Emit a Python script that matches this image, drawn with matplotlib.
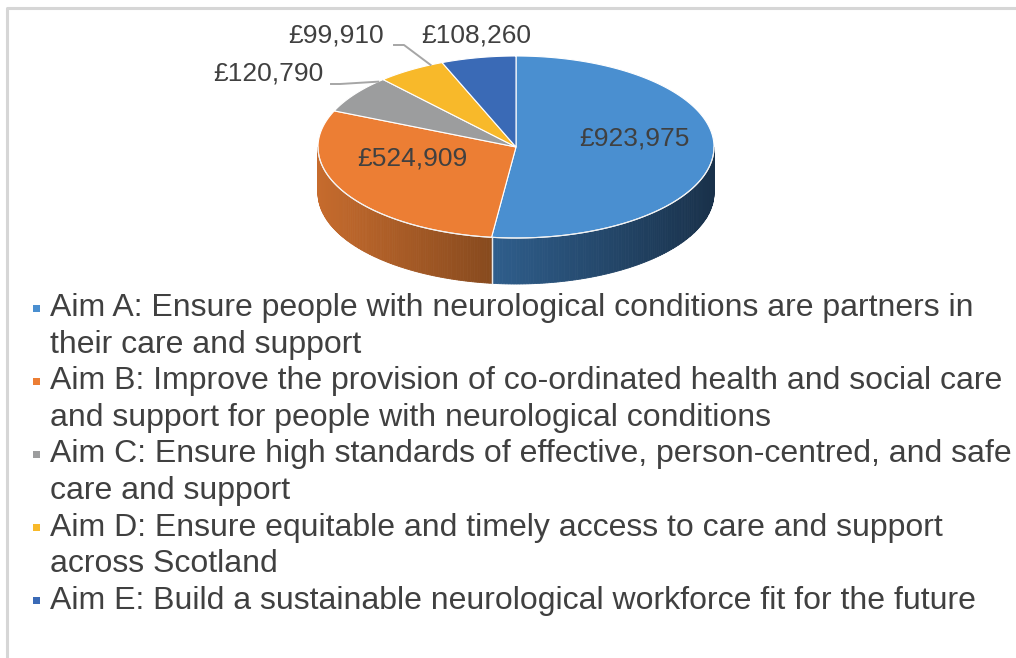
import numpy as np
import matplotlib

matplotlib.use("Agg")
import matplotlib.pyplot as plt
from matplotlib.colors import to_rgb
from matplotlib.patches import Polygon, Rectangle

# data
aims = ["Aim A", "Aim B", "Aim C", "Aim D", "Aim E"]
amounts = [923975, 524909, 120790, 99910, 108260]
value_labels = ["£923,975", "£524,909", "£120,790", "£99,910", "£108,260"]
legend_labels = [
    "Aim A: Ensure people with neurological conditions are partners in\ntheir care and support",
    "Aim B: Improve the provision of co-ordinated health and social care\nand support for people with neurological conditions",
    "Aim C: Ensure high standards of effective, person-centred, and safe\ncare and support",
    "Aim D: Ensure equitable and timely access to care and support\nacross Scotland",
    "Aim E: Build a sustainable neurological workforce fit for the future",
]

top_colors = ["#4a8fd0", "#ec7e34", "#9c9d9e", "#f8b92a", "#3a6ab6"]
side_light = ["#2f5e8c", "#c66b2d", "#7a7a7a", "#c08d1c", "#2b4f8a"]
side_dark = ["#19314a", "#874a1e", "#555555", "#8a6514", "#1d365e"]
text_color = "#404040"
font = ["Liberation Sans", "DejaVu Sans"]

# layout in pixels (axes spans the whole figure)
W, H = 1016, 658
cx, cy = 516, 147
ra, rb = 198, 91
depth = 46


def arc(t0, t1, n=200, dy=0.0):
    t = np.radians(np.linspace(t0, t1, n))
    return cx + ra * np.sin(t), cy - rb * np.cos(t) + dy


fig = plt.figure(figsize=(W / 100, H / 100), dpi=100)
ax = fig.add_axes([0, 0, 1, 1])
ax.set_xlim(0, W)
ax.set_ylim(H, 0)
ax.axis("off")

# frame
ax.plot([7, 7, W + 5], [H + 5, 8, 8], color="#d6d6d6", lw=2.2, solid_capstyle="butt")

fracs = np.array(amounts, dtype=float) / sum(amounts)
edges = np.concatenate([[0.0], np.cumsum(fracs) * 360.0])

# side walls: only the front half (90..270 deg clockwise from top) is visible
for i in range(len(amounts)):
    t0, t1 = max(edges[i], 90.0), min(edges[i + 1], 270.0)
    if t1 <= t0:
        continue
    steps = np.linspace(t0, t1, 120)
    xs_all = cx + ra * np.sin(np.radians(steps))
    xmin, xmax = xs_all.min(), xs_all.max()
    c_l, c_d = np.array(to_rgb(side_light[i])), np.array(to_rgb(side_dark[i]))
    for a0, a1 in zip(steps[:-1], steps[1:]):
        x_top, y_top = arc(a0, a1, 4)
        x_bot, y_bot = arc(a1, a0, 4, dy=depth)
        xm = 0.5 * (x_top[0] + x_top[-1])
        f = (xm - xmin) / max(xmax - xmin, 1e-6)
        col = c_l * (1 - f) + c_d * f
        ax.add_patch(Polygon(np.column_stack([np.r_[x_top, x_bot], np.r_[y_top, y_bot]]),
                             closed=True, facecolor=col, edgecolor=col, lw=0.6))
    # vertical seam at slice boundary on the front
    for t in (edges[i], edges[i + 1]):
        if 90.0 < t < 270.0:
            xs = cx + ra * np.sin(np.radians(t))
            ys = cy - rb * np.cos(np.radians(t))
            ax.plot([xs, xs], [ys, ys + depth], color="#e8e8e8", lw=0.9)

# top faces
for i in range(len(amounts)):
    xa, ya = arc(edges[i], edges[i + 1])
    ax.add_patch(Polygon(np.column_stack([np.r_[cx, xa], np.r_[cy, ya]]), closed=True,
                         facecolor=top_colors[i], edgecolor="white", lw=0.8))

# front rim highlight
xr, yr = arc(90, 270)
ax.plot(xr, yr, color="#f2f2f2", lw=0.8)

# value labels
inside = {0: (0.60, -12), 1: (0.60, -16)}
for i, (r, dy) in inside.items():
    tm = np.radians(0.5 * (edges[i] + edges[i + 1]))
    ax.text(cx + r * ra * np.sin(tm), cy - r * rb * np.cos(tm) + dy, value_labels[i],
            ha="center", va="center", family=font, fontsize=19, color=text_color)

# outside labels with leader lines: (text centre, line start, elbow, fraction along slice)
outside = {
    2: ((268, 73), (331, 84), (340, 84), 0.92),
    3: ((336, 35), (394, 45), (404, 45), 0.82),
}
for i, (tpos, start, elbow, frac) in outside.items():
    ta = np.radians(edges[i] + frac * (edges[i + 1] - edges[i]))
    px, py = cx + ra * np.sin(ta), cy - rb * np.cos(ta)
    ax.plot([start[0], elbow[0], px], [start[1], elbow[1], py], color="#a6a6a6", lw=1.4)
    ax.text(tpos[0], tpos[1], value_labels[i], ha="center", va="center",
            family=font, fontsize=19, color=text_color)
ax.text(476, 35, value_labels[4], ha="center", va="center",
        family=font, fontsize=19, color=text_color)

# legend, one text per line so the spacing matches
leg_x, leg_y, line_h = 50, 308, 36.6
row = 0
for i, lab in enumerate(legend_labels):
    y0 = leg_y + row * line_h
    ax.add_patch(Rectangle((33, y0 - 3.5), 7, 7, facecolor=top_colors[i], edgecolor="none"))
    for line in lab.split("\n"):
        ax.text(leg_x, leg_y + row * line_h, line, ha="left", va="center",
                fontsize=23, family=font, color=text_color)
        row += 1

fig.savefig("out.png", dpi=100)
